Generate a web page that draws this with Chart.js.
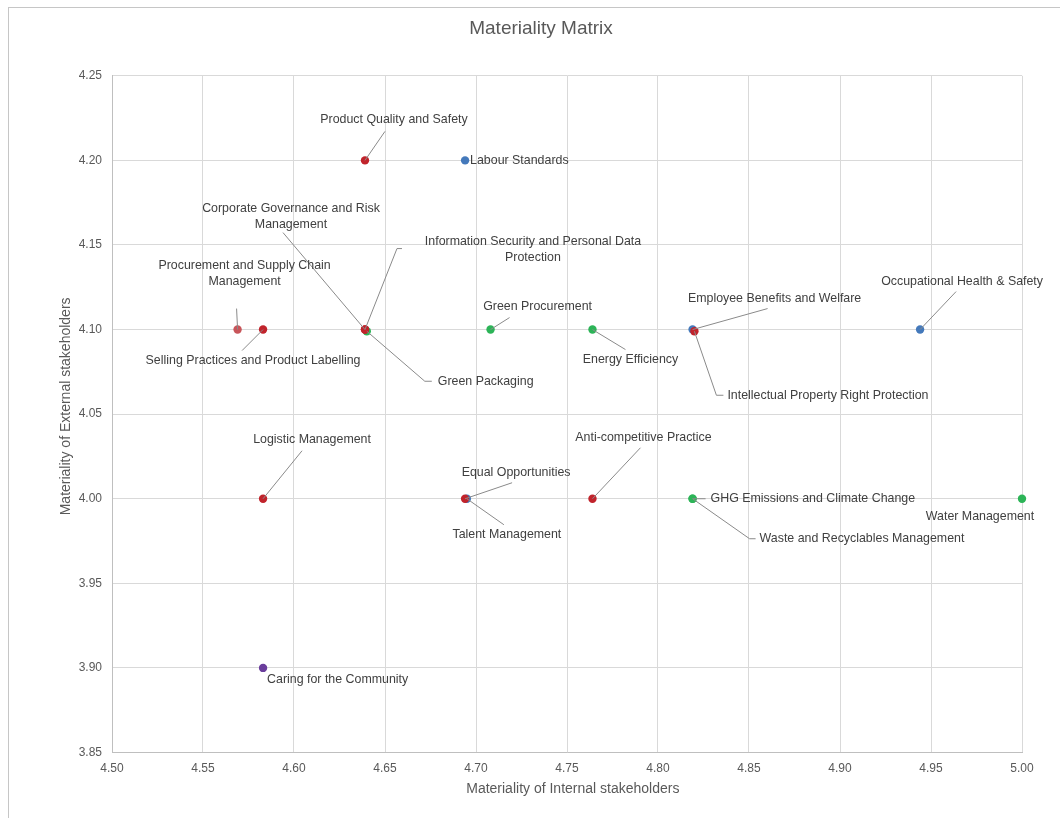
<!DOCTYPE html>
<html>
<head>
<meta charset="utf-8">
<title>Materiality Matrix</title>
<script src="https://cdn.jsdelivr.net/npm/chart.js@4.4.1/dist/chart.umd.min.js"></script>
<style>
  html, body { margin: 0; padding: 0; background: #ffffff; overflow: hidden; }
  #frame {
    position: absolute; left: 8px; top: 7px;
    width: 1064px; height: 830px;
    border-left: 1px solid #c6c6c6; border-top: 1px solid #c6c6c6;
    background: #ffffff;
  }
  #box { position: relative; width: 1064px; height: 810px; }
</style>
</head>
<body>
<div id="frame"><div id="box"><canvas id="matrix"></canvas></div></div>
<script>
// Material topics, in drawing order (later points sit on top).
const topics = [
  'Product Quality and Safety',
  'Labour Standards',
  'Green Packaging',
  'Information Security and Personal Data Protection',
  'Corporate Governance and Risk Management',
  'Procurement and Supply Chain Management',
  'Selling Practices and Product Labelling',
  'Green Procurement',
  'Energy Efficiency',
  'Employee Benefits and Welfare',
  'Intellectual Property Right Protection',
  'Occupational Health & Safety',
  'Logistic Management',
  'Talent Management',
  'Equal Opportunities',
  'Anti-competitive Practice',
  'GHG Emissions and Climate Change',
  'Waste and Recyclables Management',
  'Water Management',
  'Caring for the Community'
];

// Average scores given by internal stakeholders (x) and external stakeholders (y).
const internalScores = [
  4.639, 4.694, 4.640, 4.639, 4.639, 4.569, 4.583, 4.708, 4.764, 4.819,
  4.820, 4.944, 4.583, 4.695, 4.694, 4.764, 4.819, 4.819, 5.000, 4.583
];
const externalScores = [
  4.20, 4.20, 4.099, 4.10, 4.10, 4.10, 4.10, 4.10, 4.10, 4.10,
  4.099, 4.10, 4.00, 4.00, 4.00, 4.00, 4.00, 4.00, 4.00, 3.90
];

// Aspect each topic belongs to.
const aspects = [
  'Operating', 'Employment', 'Environment', 'Operating', 'Operating',
  'Supply Chain', 'Operating', 'Environment', 'Environment', 'Employment',
  'Operating', 'Employment', 'Operating', 'Employment', 'Operating',
  'Operating', 'Environment', 'Environment', 'Environment', 'Community'
];

// Axis ranges and tick spacing.
const internalRange = [4.50, 5.00];
const externalRange = [3.85, 4.25];
const tickStep = 0.05;

const aspectColors = {
  'Operating': '#c1232b',
  'Supply Chain': '#c8555a',
  'Employment': '#4479bb',
  'Environment': '#2cb457',
  'Community': '#6a3d9c'
};

// Where each callout sits relative to its point (pixels) and its leader line.
const calloutPlacement = {
  'Product Quality and Safety': { dx: 29, dy: -41, align: 'center', leader: [[20, -29]] },
  'Labour Standards': { dx: 5, dy: 0, align: 'left' },
  'Corporate Governance and Risk Management': { dx: -74, dy: -113, align: 'center', wrap: 195, leader: [[-82, -97]] },
  'Information Security and Personal Data Protection': { dx: 168, dy: -80, align: 'center', wrap: 228, leader: [[32, -81], [37, -81]] },
  'Green Packaging': { dx: 71, dy: 50, align: 'left', leader: [[58, 50], [65, 50]] },
  'Procurement and Supply Chain Management': { dx: 7, dy: -56, align: 'center', wrap: 183, leader: [[-1, -21]] },
  'Selling Practices and Product Labelling': { dx: -10, dy: 31, align: 'center', leader: [[-21, 21]] },
  'Green Procurement': { dx: 47, dy: -23, align: 'center', leader: [[19, -12]] },
  'Energy Efficiency': { dx: 38, dy: 30, align: 'center', leader: [[33, 20]] },
  'Employee Benefits and Welfare': { dx: 82, dy: -31, align: 'center', leader: [[75, -21]] },
  'Intellectual Property Right Protection': { dx: 33, dy: 64, align: 'left', leader: [[22, 64], [29, 64]] },
  'Occupational Health & Safety': { dx: 42, dy: -48, align: 'center', leader: [[36, -38]] },
  'Logistic Management': { dx: 49, dy: -59, align: 'center', leader: [[39, -48]] },
  'Equal Opportunities': { dx: 51, dy: -26, align: 'center', leader: [[47, -16]] },
  'Talent Management': { dx: 40, dy: 36, align: 'center', leader: [[37, 26]] },
  'Anti-competitive Practice': { dx: 51, dy: -61, align: 'center', leader: [[48, -51]] },
  'GHG Emissions and Climate Change': { dx: 18, dy: 0, align: 'left', leader: [[13, 0]] },
  'Waste and Recyclables Management': { dx: 67, dy: 40, align: 'left', leader: [[57, 40], [63, 40]] },
  'Water Management': { dx: -42, dy: 18, align: 'center' },
  'Caring for the Community': { dx: 4, dy: 12, align: 'left' }
};

function wrapText(ctx, text, maxWidth) {
  if (!maxWidth) return [text];
  const words = text.split(' ');
  const lines = [];
  let line = '';
  for (const w of words) {
    const trial = line ? line + ' ' + w : w;
    if (line && ctx.measureText(trial).width > maxWidth) {
      lines.push(line);
      line = w;
    } else {
      line = trial;
    }
  }
  if (line) lines.push(line);
  return lines;
}

// Draws the topic names with their leader lines.
const calloutPlugin = {
  id: 'callouts',
  afterDatasetsDraw(chart, args, opts) {
    const meta = chart.getDatasetMeta(0);
    const ctx = chart.ctx;
    ctx.save();
    ctx.font = opts.font;
    meta.data.forEach((pt, i) => {
      const spec = opts.placement[topics[i]];
      if (!spec) return;
      const { x, y } = pt.getProps(['x', 'y'], true);
      if (spec.leader) {
        ctx.beginPath();
        ctx.strokeStyle = opts.leaderColor;
        ctx.lineWidth = 1;
        ctx.moveTo(x, y);
        spec.leader.forEach(([dx, dy]) => ctx.lineTo(x + dx, y + dy));
        ctx.stroke();
      }
      const lines = wrapText(ctx, topics[i], spec.wrap);
      ctx.fillStyle = opts.color;
      ctx.textAlign = spec.align;
      ctx.textBaseline = 'middle';
      const n = lines.length;
      lines.forEach((ln, k) => {
        ctx.fillText(ln, x + spec.dx, y + spec.dy + (k - (n - 1) / 2) * opts.lineHeight);
      });
    });
    ctx.restore();
  }
};

const points = topics.map((t, i) => ({ x: internalScores[i], y: externalScores[i] }));

new Chart(document.getElementById('matrix'), {
  type: 'scatter',
  data: {
    datasets: [{
      label: 'Material topics',
      data: points,
      clip: false,
      pointRadius: 4.2,
      pointHoverRadius: 4.2,
      pointBorderWidth: 0,
      pointBackgroundColor: aspects.map(a => aspectColors[a]),
      pointBorderColor: aspects.map(a => aspectColors[a])
    }]
  },
  plugins: [calloutPlugin],
  options: {
    responsive: true,
    maintainAspectRatio: false,
    animation: false,
    layout: { padding: { left: 51, right: 51, top: 0, bottom: 0 } },
    plugins: {
      legend: { display: false },
      tooltip: { enabled: false },
      title: {
        display: true,
        text: 'Materiality Matrix',
        color: '#595959',
        font: { family: '"Liberation Sans", Arial, sans-serif', size: 19, weight: 'normal' },
        padding: { top: 9, bottom: 36 }
      },
      callouts: {
        placement: calloutPlacement,
        font: '12.4px "Liberation Sans", Arial, sans-serif',
        color: '#404040',
        leaderColor: '#8a8a8a',
        lineHeight: 15.5
      }
    },
    scales: {
      x: {
        type: 'linear',
        min: internalRange[0],
        max: internalRange[1],
        afterFit(scale) { scale.height = 65.5; },
        grid: { color: '#d9d9d9', drawTicks: false, lineWidth: 1 },
        border: { color: '#bfbfbf', width: 1 },
        ticks: {
          stepSize: tickStep,
          padding: 9,
          color: '#595959',
          font: { family: '"Liberation Sans", Arial, sans-serif', size: 12 },
          callback: v => Number(v).toFixed(2)
        },
        title: {
          display: true,
          // leading spaces nudge the title a little right of the plot centre
          text: '   Materiality of Internal stakeholders',
          color: '#595959',
          font: { family: '"Liberation Sans", Arial, sans-serif', size: 14 },
          padding: { top: 0, bottom: 20 }
        }
      },
      y: {
        type: 'linear',
        min: externalRange[0],
        max: externalRange[1],
        afterFit(scale) { scale.width = 52; },
        grid: { color: '#d9d9d9', drawTicks: false, lineWidth: 1 },
        border: { color: '#bfbfbf', width: 1 },
        ticks: {
          stepSize: tickStep,
          padding: 10,
          color: '#595959',
          font: { family: '"Liberation Sans", Arial, sans-serif', size: 12 },
          callback: v => Number(v).toFixed(2)
        },
        title: {
          display: true,
          // leading spaces lift the rotated title slightly above the plot centre
          text: '    Materiality of External stakeholders',
          color: '#595959',
          font: { family: '"Liberation Sans", Arial, sans-serif', size: 14 },
          padding: { top: -2, bottom: 0 }
        }
      }
    }
  }
});
</script>
</body>
</html>
